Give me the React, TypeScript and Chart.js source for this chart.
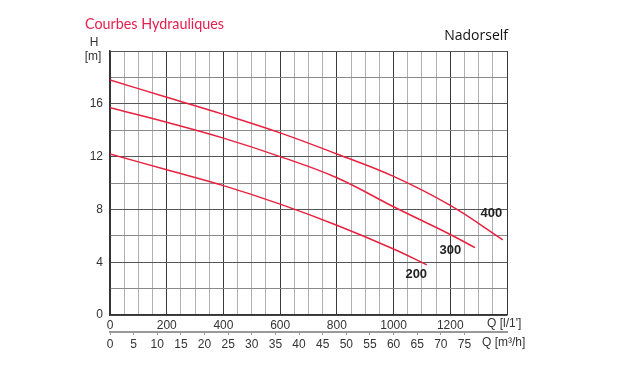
import React, { useEffect, useRef } from "react";
import { Chart, registerables } from "chart.js";

Chart.register(...registerables);

const flowLmin200 = [0, 200, 400, 600, 800, 1000, 1117];
const head200 = [12.2, 11.0, 9.8, 8.4, 6.8, 5.0, 3.8];
const flowLmin300 = [0, 200, 400, 600, 800, 1000, 1200, 1287];
const head300 = [15.7, 14.6, 13.4, 12.0, 10.4, 8.2, 6.1, 5.1];
const flowLmin400 = [0, 200, 400, 600, 800, 1000, 1200, 1385];
const head400 = [17.8, 16.5, 15.2, 13.8, 12.2, 10.5, 8.3, 5.7];
const curveNames = ["200", "300", "400"];
const labelAnchors = [
  { q: 1080, h: 3.1 },
  { q: 1200, h: 4.9 },
  { q: 1345, h: 7.7 },
];

const RED = "#e8213f";

function toPoints(xs: number[], ys: number[]) {
  return xs.map((x, i) => ({ x, y: ys[i] }));
}

const textPlugin = {
  id: "texts",
  afterDraw(chart: any) {
    const ctx = chart.ctx;
    const xs = chart.scales.x;
    const ys = chart.scales.y;
    ctx.save();
    ctx.fillStyle = "#e5204f";
    ctx.font = "15px Lato";
    ctx.textAlign = "left";
    ctx.textBaseline = "alphabetic";
    const title = "Courbes Hydrauliques";
    const w = ctx.measureText(title).width;
    ctx.save();
    ctx.translate(85, 29);
    ctx.scale(139 / w, 1);
    ctx.fillText(title, 0, 0);
    ctx.restore();
    ctx.fillStyle = "#111";
    ctx.font = "14px 'Open Sans'";
    ctx.textAlign = "right";
    ctx.fillText("Nadorself", 508, 40);
    ctx.fillStyle = "#333";
    ctx.font = "12px 'Liberation Sans'";
    ctx.textAlign = "center";
    ctx.textBaseline = "middle";
    ctx.fillText("H", 94, 43);
    ctx.fillText("[m]", 93, 57);
    ctx.textAlign = "left";
    ctx.fillText("Q [l/1']", 487, 324);
    ctx.fillText("Q [m\u00b3/h]", 482, 343);
    ctx.font = "bold 13px 'Liberation Sans'";
    ctx.fillStyle = "#222";
    ctx.textAlign = "center";
    curveNames.forEach((n, i) => {
      const a = labelAnchors[i];
      ctx.fillText(n, xs.getPixelForValue(a.q), ys.getPixelForValue(a.h));
    });
    ctx.restore();
  },
};

export default function App() {
  const ref = useRef<HTMLCanvasElement>(null);
  useEffect(() => {
    if (!ref.current) return;
    const mk = (label: string, xs: number[], ys: number[]) => ({
      label,
      data: toPoints(xs, ys),
      borderColor: RED,
      borderWidth: 1.5,
      pointRadius: 0,
      fill: false,
      tension: 0.4,
      xAxisID: "x",
      yAxisID: "y",
    });
    const chart = new Chart(ref.current, {
      type: "line",
      data: {
        datasets: [
          mk("200", flowLmin200, head200),
          mk("300", flowLmin300, head300),
          mk("400", flowLmin400, head400),
        ],
      },
      plugins: [textPlugin],
      options: {
        animation: false,
        responsive: false,
        layout: { padding: { left: 0, top: 51, right: 113, bottom: 0 } },
        plugins: { legend: { display: false }, tooltip: { enabled: false }, title: { display: false } },
        scales: {
          x: {
            type: "linear",
            position: "bottom",
            weight: 0,
            min: 0,
            max: 1400,
            afterFit: (s: any) => { s.height = 17; },
            afterBuildTicks: (s: any) => {
              const t = [];
              for (let v = 0; v <= 1400; v += 50) t.push({ value: v });
              s.ticks = t;
            },
            ticks: {
              autoSkip: false,
              maxRotation: 0,
              padding: 3,
              color: "#333",
              font: { family: "'Liberation Sans'", size: 12 },
              callback: (v: any) => (v % 200 === 0 && v < 1400 ? String(v) : ""),
            },
            grid: {
              drawTicks: false,
              color: (c: any) => (c.tick && c.tick.value % 200 === 0 ? "#3a3a3a" : "#b0b0b0"),
              lineWidth: 1,
            },
            border: { color: "#333", width: 1.5 },
          },
          x2: {
            type: "linear",
            position: "bottom",
            weight: 1,
            min: 0,
            max: 84,
            afterFit: (s: any) => { s.height = 38; },
            afterBuildTicks: (s: any) => {
              const t = [];
              for (let v = 0; v <= 75; v += 5) t.push({ value: v });
              s.ticks = t;
            },
            ticks: {
              autoSkip: false,
              maxRotation: 0,
              padding: 2,
              color: "#333",
              font: { family: "'Liberation Sans'", size: 12 },
              callback: (v: any) => String(v),
            },
            grid: { drawOnChartArea: false, drawTicks: true, tickLength: 3, color: "#999" },
            border: { color: "#999", width: 2 },
          },
          y: {
            type: "linear",
            min: 0,
            max: 20,
            afterFit: (s: any) => { s.width = 110; },
            afterBuildTicks: (s: any) => {
              const t = [];
              for (let v = 0; v <= 20; v += 2) t.push({ value: v });
              s.ticks = t;
            },
            ticks: {
              padding: 7,
              color: "#333",
              font: { family: "'Liberation Sans'", size: 12 },
              callback: (v: any) => (v % 4 === 0 && v < 20 ? String(v) : ""),
            },
            grid: {
              drawTicks: false,
              color: (c: any) => (c.tick && c.tick.value % 4 === 0 ? "#555" : "#8a8a8a"),
              lineWidth: 1,
            },
            border: { color: "#333", width: 1.5 },
          },
        },
      } as any,
    });
    return () => chart.destroy();
  }, []);
  return (
    <div style={{ position: "absolute", left: 0, top: 0, width: 620, height: 370, background: "#fff" }}>
      <canvas ref={ref} width={620} height={370} style={{ width: 620, height: 370 }} />
    </div>
  );
}
